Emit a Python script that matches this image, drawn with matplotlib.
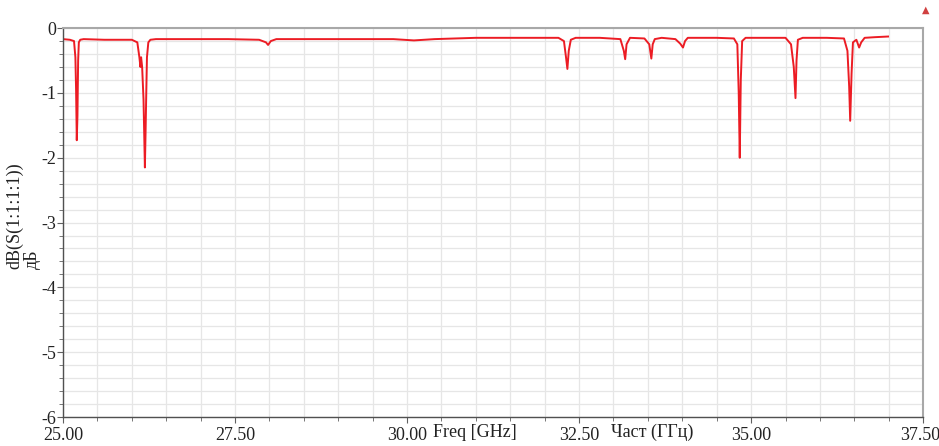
import matplotlib.pyplot as plt
import matplotlib.transforms as mtransforms
import numpy as np

# S11 trace (GHz, dB)
freq = [25.00, 25.10, 25.16, 25.18, 25.19, 25.20, 25.21, 25.215, 25.22, 25.23, 25.25, 25.30,
        25.60, 26.00, 26.08, 26.11, 26.125, 26.135, 26.15, 26.17, 26.19, 26.20, 26.21, 26.22,
        26.24, 26.27, 26.35, 26.80, 27.40, 27.85, 27.95, 27.98, 28.02, 28.10, 28.60, 29.20,
        29.80, 30.10, 30.40, 31.00, 31.60, 32.20, 32.28, 32.31, 32.33, 32.35, 32.38, 32.45,
        32.80, 33.10, 33.15, 33.17, 33.19, 33.24, 33.45, 33.52, 33.55, 33.57, 33.60, 33.70,
        33.90, 33.97, 34.01, 34.04, 34.08, 34.20, 34.50, 34.75, 34.80, 34.82, 34.835, 34.85,
        34.87, 34.92, 35.20, 35.50, 35.58, 35.62, 35.645, 35.66, 35.68, 35.75, 36.10, 36.35,
        36.40, 36.425, 36.44, 36.46, 36.48, 36.53, 36.57, 36.60, 36.65, 36.80, 36.99]
s11 = [-0.17, -0.18, -0.20, -0.45, -0.95, -1.73, -1.35, -0.90, -0.50, -0.22, -0.18, -0.17,
       -0.18, -0.18, -0.22, -0.45, -0.60, -0.45, -0.60, -1.10, -2.15, -1.60, -1.00, -0.45,
       -0.22, -0.18, -0.17, -0.17, -0.17, -0.18, -0.22, -0.26, -0.20, -0.17, -0.17, -0.17,
       -0.17, -0.19, -0.17, -0.15, -0.15, -0.15, -0.20, -0.45, -0.63, -0.35, -0.18, -0.15,
       -0.15, -0.17, -0.35, -0.48, -0.25, -0.15, -0.16, -0.25, -0.47, -0.25, -0.17, -0.15,
       -0.17, -0.24, -0.30, -0.20, -0.15, -0.15, -0.15, -0.16, -0.25, -1.00, -2.00, -0.80,
       -0.20, -0.15, -0.15, -0.15, -0.25, -0.60, -1.08, -0.50, -0.18, -0.15, -0.15, -0.16,
       -0.35, -0.90, -1.43, -0.70, -0.22, -0.18, -0.30, -0.22, -0.15, -0.14, -0.13]

xtick_vals = [25.0, 27.5, 30.0, 32.5, 35.0, 37.5]
xtick_labels = ['25.00', '27.50', '30.00', '32.50', '35.00', '37.50']
ytick_vals = [-6, -5, -4, -3, -2, -1, 0]
ytick_labels = ['-6', '-5', '-4', '-3', '-2', '-1', '0']

plt.rcParams['font.family'] = ['Liberation Serif', 'DejaVu Serif']

fig = plt.figure(figsize=(9.39, 4.46), dpi=100)
ax = fig.add_axes([0.0671, 0.065, 0.916, 0.872])

ax.plot(freq, s11, color='#ec1c24', lw=1.4)

ax.set_xlim(25, 37.5)
ax.set_ylim(-6, 0)
ax.set_xticks(xtick_vals)
ax.set_xticklabels(xtick_labels)
ax.set_xticks(np.arange(25, 37.6, 0.5), minor=True)
ax.set_yticks(ytick_vals)
ax.set_yticklabels(ytick_labels)
ax.set_yticks(np.arange(-6, 0.01, 0.2), minor=True)
ax.grid(True, which='both', color='#e6e6e6', lw=0.9)
ax.set_axisbelow(True)
ax.tick_params(labelsize=13, length=4, color='#606060', pad=1, labelcolor='#222222')
ax.tick_params(axis='x', pad=3)
ax.tick_params(which='minor', length=3, color='#606060')
# nudge the last x label so it stays inside the picture
last = ax.get_xticklabels()[-1]
last.set_transform(last.get_transform() + mtransforms.ScaledTranslation(-3 / 100, 0, fig.dpi_scale_trans))
for s in ['top', 'right']:
    ax.spines[s].set_color('#a8a8a8')
    ax.spines[s].set_linewidth(1.5)
for s in ['left', 'bottom']:
    ax.spines[s].set_color('#505050')
    ax.spines[s].set_linewidth(1.0)

fig.text(0.025, 0.517, 'dB(S(1:1:1:1))\nдБ', fontsize=13, color='#222222', rotation=90,
         ha='center', va='center', multialignment='left', linespacing=1.1)
fig.text(0.506, 0.030, 'Freq [GHz]', fontsize=13, ha='center', va='center', color='#222222')
fig.text(0.695, 0.030, 'Част (ГГц)', fontsize=13, ha='center', va='center', color='#222222')
fig.text(0.986, 0.977, '▲', fontsize=7, color='#d04040', ha='center', va='center',
         family=['DejaVu Sans'])

fig.savefig('out.png', dpi=100)
